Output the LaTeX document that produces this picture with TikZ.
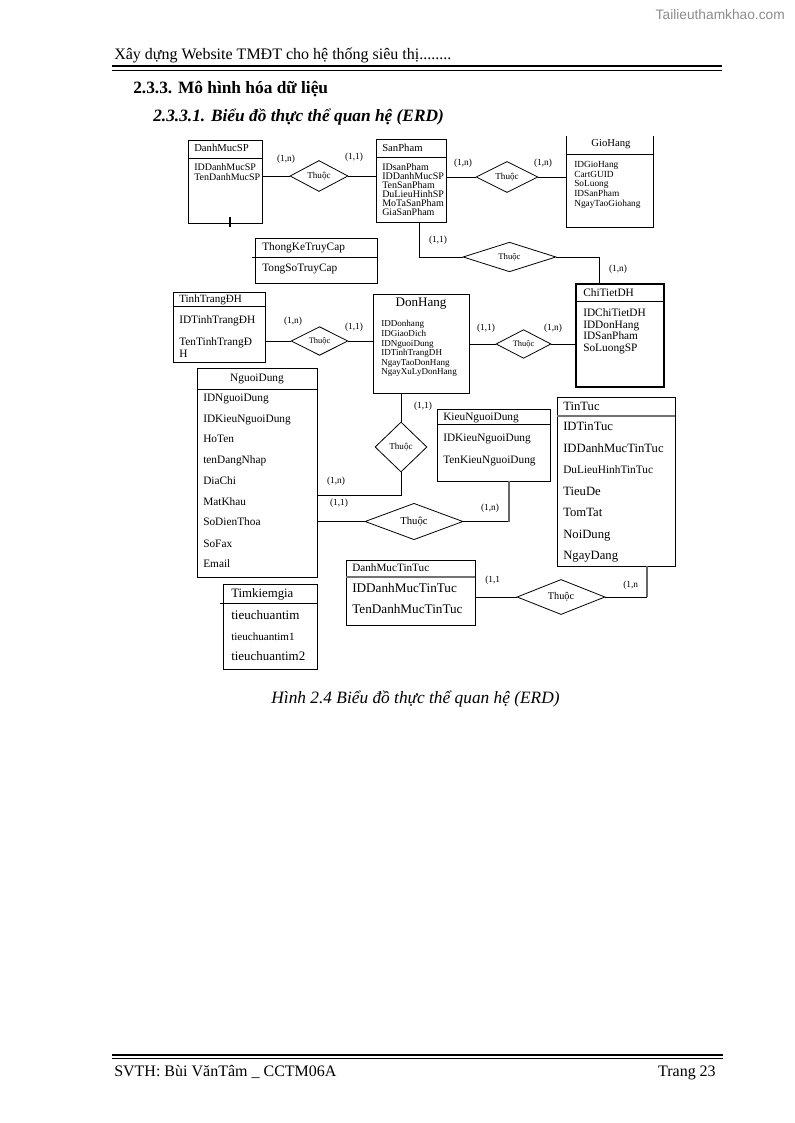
\documentclass[tikz,border=0pt]{standalone}
\usepackage{fontspec}
\setmainfont{Liberation Serif}
\newfontfamily\wmfont{Liberation Sans}
\usetikzlibrary{shapes.geometric,fit}
\newcommand\fsz[1]{\fontsize{#1}{#1}\selectfont}
\newcommand\entbox[6][]{%
  \coordinate (#2-nw) at (#3,#4);
  \coordinate (#2-se) at (#5,#6);
  \node[ebox,#1,fit=(#2-nw)(#2-se)] (#2) {};}
% attribute text: name, size(pt), x, y(centre of caps), text
\newcommand\attr[5]{\node[anchor=base west, inner sep=0pt, font=\fsz{#2}] (#1) at (#3,{#4+0.44*#2}) {#5};}
\newcommand\cattr[5]{\node[anchor=base, inner sep=0pt, font=\fsz{#2}] (#1) at (#3,{#4+0.44*#2}) {#5};}
\begin{document}
\begin{tikzpicture}[x=0.75pt,y=-0.75pt,
  ebox/.style={draw, inner sep=0pt, line width=0.6pt},
  hl/.style={line width=0.6pt},
  ghl/.style={line width=1.5pt, black!55},
  rel/.style={diamond, draw, inner sep=0pt, line width=0.6pt},
  conn/.style={line width=0.6pt},
  gline/.style={line width=1.8pt, black!60},
  card/.style={inner sep=0pt, font=\fsz{7}},
  ttl/.style={anchor=base west, inner sep=0pt}]
\useasboundingbox (0,0) rectangle (794,1123);
\fill[white] (0,0) rectangle (794,1123);

% ---------- page header ----------
\node[anchor=east, inner sep=0pt, font=\wmfont\fsz{10.3}, text=black!45] (wm) at (785,15) {Tailieuthamkhao.com};
\node[ttl, font=\fsz{12}] (hdr) at (114,60) {Xây dựng Website TMĐT cho hệ thống siêu thị........};
\draw[line width=1.5pt] (112,66.5) -- (722,66.5);
\draw[line width=0.5pt] (112,70) -- (722,70);
\node[ttl, font=\bfseries\fsz{13}] (sec) at (133,94) {2.3.3. Mô hình hóa dữ liệu};
\node[ttl, font=\bfseries\itshape\fsz{13}] (subsec) at (153,122) {2.3.3.1. Biểu đồ thực thể quan hệ (ERD)};

% ---------- DanhMucSP ----------
\entbox{dmsp}{188}{140}{262}{223}
\draw[hl] (188,158) -- (262,158);
\attr{dmsp-t}{8}{194}{148}{DanhMucSP}
\attr{dmsp-a1}{7.5}{194}{167}{IDDanhMucSP}
\attr{dmsp-a2}{7.5}{194}{177.5}{TenDanhMucSP}
\draw[line width=2.2pt] (230,217) -- (230,227);

% ---------- SanPham ----------
\entbox{sp}{376}{139}{446}{222}
\draw[hl] (376,157) -- (446,157);
\attr{sp-t}{8}{382}{148}{SanPham}
\attr{sp-a1}{7.5}{382}{167}{IDsanPham}
\attr{sp-a2}{7.5}{382}{176}{IDDanhMucSP}
\attr{sp-a3}{7.5}{382}{185}{TenSanPham}
\attr{sp-a4}{7.5}{382}{194}{DuLieuHinhSP}
\attr{sp-a5}{7.5}{382}{203}{MoTaSanPham}
\attr{sp-a6}{7.5}{382}{212}{GiaSanPham}

% ---------- GioHang (open top) ----------
\entbox[draw=none]{gh}{567}{136}{653}{227}
\draw[hl] (gh.north west) |- (gh.south east) -- (gh.north east);
\draw[hl] (567,154) -- (653,154);
\cattr{gh-t}{8}{611}{143}{GioHang}
\attr{gh-a1}{7}{574}{164}{IDGioHang}
\attr{gh-a2}{7}{574}{174}{CartGUID}
\attr{gh-a3}{7}{574}{183.5}{SoLuong}
\attr{gh-a4}{7}{574}{193}{IDSanPham}
\attr{gh-a5}{7}{574}{203}{NgayTaoGiohang}

% ---------- ThongKeTruyCap ----------
\entbox{tk}{255}{238}{377}{283}
\draw[hl] (252,257) -- (377,257);
\attr{tk-t}{8.5}{262}{247}{ThongKeTruyCap}
\attr{tk-a1}{8.5}{262}{268}{TongSoTruyCap}

% ---------- TinhTrangDH ----------
\entbox{tt}{173}{292}{265}{362}
\draw[hl] (173,306) -- (265,306);
\attr{tt-t}{8.3}{179}{299}{TinhTrangĐH}
\attr{tt-a1}{8.5}{179}{320}{IDTinhTrangĐH}
\attr{tt-a2}{8.5}{179}{342}{TenTinhTrangĐ}
\attr{tt-a3}{8.5}{179}{354}{H}

% ---------- DonHang ----------
\entbox{dh}{373}{294}{469}{393}
\cattr{dh-t}{9.8}{421}{302}{DonHang}
\attr{dh-a1}{6.8}{381}{324}{IDDonhang}
\attr{dh-a2}{6.8}{381}{333.6}{IDGiaoDich}
\attr{dh-a3}{6.8}{381}{343.2}{IDNguoiDung}
\attr{dh-a4}{6.8}{381}{352.8}{IDTinhTrangDH}
\attr{dh-a5}{6.8}{381}{362.4}{NgayTaoDonHang}
\attr{dh-a6}{6.8}{381}{372}{NgayXuLyDonHang}

% ---------- ChiTietDH ----------
\entbox[line width=1.3pt]{ct}{576}{284}{664}{387}
\draw[hl] (576,301) -- (664,301);
\attr{ct-t}{8.5}{583}{293}{ChiTietDH}
\attr{ct-a1}{8.5}{583}{313}{IDChiTietDH}
\attr{ct-a2}{8.5}{583}{324.5}{IDDonHang}
\attr{ct-a3}{8.5}{583}{336}{IDSanPham}
\attr{ct-a4}{8.5}{583}{348}{SoLuongSP}

% ---------- NguoiDung ----------
\entbox{nd}{197}{368}{317}{577}
\draw[hl] (197,389) -- (317,389);
\cattr{nd-t}{8.5}{257}{378}{NguoiDung}
\attr{nd-a1}{8.5}{203}{398}{IDNguoiDung}
\attr{nd-a2}{8.5}{203}{419}{IDKieuNguoiDung}
\attr{nd-a3}{8.5}{203}{439}{HoTen}
\attr{nd-a4}{8.5}{203}{460}{tenDangNhap}
\attr{nd-a5}{8.5}{203}{481}{DiaChi}
\attr{nd-a6}{8.5}{203}{502}{MatKhau}
\attr{nd-a7}{8.5}{203}{522}{SoDienThoa}
\attr{nd-a8}{8.5}{203}{544}{SoFax}
\attr{nd-a9}{8.5}{203}{564}{Email}

% ---------- KieuNguoiDung ----------
\entbox{kn}{437}{409}{550}{481}
\draw[hl] (437,424) -- (550,424);
\attr{kn-t}{8.5}{443}{417}{KieuNguoiDung}
\attr{kn-a1}{8.5}{443}{438}{IDKieuNguoiDung}
\attr{kn-a2}{8.5}{443}{460}{TenKieuNguoiDung}

% ---------- TinTuc ----------
\entbox{tin}{557}{397}{675}{566}
\draw[ghl] (557,416) -- (675,416);
\attr{tin-t}{9.5}{563}{406}{TinTuc}
\attr{tin-a1}{9.5}{563}{426}{IDTinTuc}
\attr{tin-a2}{9.5}{563}{448}{IDDanhMucTinTuc}
\attr{tin-a3}{8.5}{563}{470}{DuLieuHinhTinTuc}
\attr{tin-a4}{9.5}{563}{491}{TieuDe}
\attr{tin-a5}{9.5}{563}{512}{TomTat}
\attr{tin-a6}{9.5}{563}{534}{NoiDung}
\attr{tin-a7}{9.5}{563}{555}{NgayDang}

% ---------- DanhMucTinTuc ----------
\entbox{dmt}{346}{560}{475}{625}
\draw[ghl] (346,577) -- (475,577);
\attr{dmt-t}{8.4}{352}{568}{DanhMucTinTuc}
\attr{dmt-a1}{9.9}{352}{588}{IDDanhMucTinTuc}
\attr{dmt-a2}{9.9}{352}{609}{TenDanhMucTinTuc}

% ---------- Timkiemgia ----------
\entbox{tkg}{223}{584}{317}{669}
\draw[hl] (220,603) -- (317,603);
\attr{tkg-t}{9.6}{231}{593}{Timkiemgia}
\attr{tkg-a1}{9.8}{231}{615}{tieuchuantim}
\attr{tkg-a2}{8.3}{231}{637}{tieuchuantim1}
\attr{tkg-a3}{9.7}{231}{656}{tieuchuantim2}

% ---------- relationships ----------
\node[rel, minimum width=43.5pt, minimum height=20.25pt, font=\fsz{6.8}] (d1) at (319,176) {Thuộc};
\node[rel, minimum width=46.5pt, minimum height=19.5pt, font=\fsz{6.8}] (d2) at (507,177) {Thuộc};
\node[rel, minimum width=69.75pt, minimum height=19.5pt, font=\fsz{6.5}] (d3) at (509.5,257) {Thuộc};
\node[rel, minimum width=42.75pt, minimum height=19.5pt, font=\fsz{6.3}] (d4) at (319.5,341) {Thuộc};
\node[rel, minimum width=41.25pt, minimum height=19.5pt, font=\fsz{6.3}] (d5) at (523.5,344) {Thuộc};
\node[rel, minimum width=39pt, minimum height=37.5pt, font=\fsz{6.8}] (d6) at (401,447) {Thuộc};
\node[rel, minimum width=73.5pt, minimum height=18.75pt, font=\fsz{8}] (d7) at (414,521.5) {Thuộc};
\node[rel, minimum width=66pt, minimum height=19.5pt, font=\fsz{7.7}] (d8) at (561,597) {Thuộc};

% ---------- connectors ----------
\draw[conn] (dmsp.east |- d1) -- (d1.west);
\draw[conn] (d1.east) -- (sp.west |- d1);
\draw[conn] (sp.east |- d2) -- (d2.west);
\draw[conn] (d2.east) -- (gh.west |- d2);
\draw[conn] ([xshift=6pt]sp.south) |- (d3.west);
\draw[conn] (d3.east) -| ([xshift=-15.75pt]ct.north);
\draw[conn] (tt.east |- d4) -- (d4.west);
\draw[conn] (d4.east) -- (dh.west |- d4);
\draw[conn] (dh.east |- d5) -- (d5.west);
\draw[conn] (d5.east) -- (ct.west |- d5);
\draw[conn] (dh.south -| d6) -- (d6.north);
\coordinate (j6) at (401,495);
\draw[conn] (d6.south) -- (j6) -- (nd.east |- j6);
\draw[conn] (nd.east |- d7) -- (d7.west);
\coordinate (j7) at (509,521.5);
\draw[conn] (d7.east) -- (j7);
\draw[gline] (j7) -- (kn.south -| j7);
\draw[conn] (dmt.east |- d8) -- (d8.west);
\coordinate (j8) at (647,597);
\draw[conn] (d8.east) -- (j8);
\draw[gline] (j8) -- (tin.south -| j8);

% ---------- cardinalities ----------
\node[card] (c1) at (286,159) {(1,n)};
\node[card] (c2) at (354,157) {(1,1)};
\node[card] (c3) at (463,163) {(1,n)};
\node[card] (c4) at (543,163) {(1,n)};
\node[card] (c5) at (438,240) {(1,1)};
\node[card] (c6) at (618,269) {(1,n)};
\node[card] (c7) at (293,321) {(1,n)};
\node[card] (c8) at (354,327) {(1,1)};
\node[card] (c9) at (486,328) {(1,1)};
\node[card] (c10) at (553,328) {(1,n)};
\node[card] (c11) at (423,406) {(1,1)};
\node[card] (c12) at (336,481) {(1,n)};
\node[card] (c13) at (339,503) {(1,1)};
\node[card] (c14) at (490,508) {(1,n)};
\node[card, anchor=west] (c15) at (485,580) {(1,1};
\node[card, anchor=west] (c16) at (623,585) {(1,n};

% ---------- caption ----------
\node[anchor=base, inner sep=0pt, font=\itshape\fsz{13}] (cap) at (415.5,703) {Hình 2.4 Biểu đồ thực thể quan hệ (ERD)};

% ---------- page footer ----------
\draw[line width=1.5pt] (112,1054.5) -- (723,1054.5);
\draw[line width=0.5pt] (112,1058) -- (723,1058);
\node[ttl, font=\fsz{12}] (ftl) at (114,1076) {SVTH: Bùi VănTâm \_ CCTM06A};
\node[anchor=base east, inner sep=0pt, font=\fsz{12}] (ftr) at (716,1076) {Trang 23};
\end{tikzpicture}
\end{document}
